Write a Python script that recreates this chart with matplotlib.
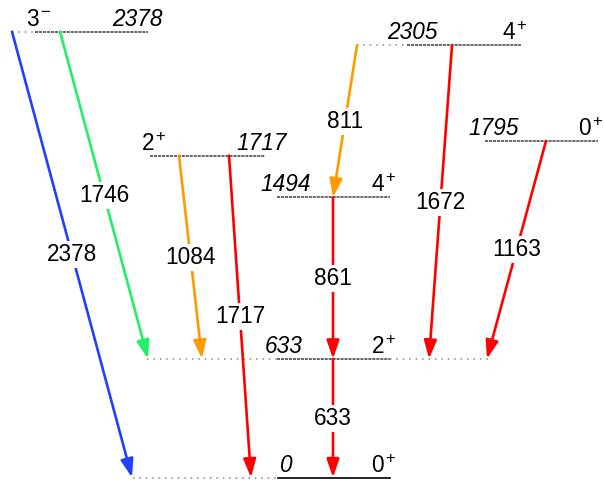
import matplotlib
matplotlib.use("Agg")
from matplotlib import pyplot as plt

plt.rcParams["font.family"] = ["Liberation Sans", "DejaVu Sans"]

# levels (keV) and spin-parity
level_energies = [0, 633, 1494, 1717, 1795, 2305, 2378]
level_spins = ["0", "2", "4", "2", "0", "4", "3"]
level_parity = ["+", "+", "+", "+", "+", "+", "\u2212"]

# transitions: initial level, final level, gamma energy
gamma_from = [2378, 2378, 1717, 1717, 2305, 1494, 633, 2305, 1795]
gamma_to = [0, 633, 633, 0, 1494, 633, 0, 633, 633]
gamma_energy = [2378, 1746, 1084, 1717, 811, 861, 633, 1672, 1163]
gamma_color = ["#2040ff", "#22ee66", "#ff9900", "#ff0000", "#ff9900",
               "#ff0000", "#ff0000", "#ff0000", "#ff0000"]

# drawing layout in pixels (horizontal only)
level_line = {0: (278, 390), 633: (277, 390), 1494: (277, 390), 1717: (150, 265),
              1795: (485, 598), 2305: (407, 521), 2378: (35, 148)}
level_dots = {0: [(133, 278)], 633: [(147, 277), (390, 488)], 2305: [(357, 407)],
              2378: [(12, 35)]}
# x of energy label centre and of the spin/parity split
level_text = {0: (285, 384), 633: (284, 384), 1494: (286, 384), 1717: (262, 154),
              1795: (494, 591), 2305: (412, 515), 2378: (137, 39)}
gamma_x = {2378: (12, 132), 1746: (60, 148), 1084: (179, 202), 1717: (229, 251),
           811: (357, 333), 861: (333, 333), 633: (333, 333), 1672: (452, 429),
           1163: (546, 487)}

fig = plt.figure(figsize=(6.04, 4.82), dpi=100)
ax = fig.add_axes([0, 0, 1, 1])
ax.set_xlim(0, 604)
ax.set_ylim(-24, 2546.7)
ax.axis("off")

for e, spin, par in zip(level_energies, level_spins, level_parity):
    x0, x1 = level_line[e]
    if e == 0:
        ax.plot([x0, x1], [e, e], color="black", lw=1.2, zorder=2)
    else:
        ax.plot([x0, x1], [e, e], color="#3a3a3a", lw=1.1, ls=(0, (2, 0.6)), zorder=2)
    for d0, d1 in level_dots.get(e, []):
        ax.plot([d0, d1], [e, e], color="#888888", lw=1.1, ls=(0, (1, 3.2)), zorder=1)
    ex, sx = level_text[e]
    ax.annotate(str(e), (ex, e), xytext=(0, 6), textcoords="offset pixels",
                ha="center", va="baseline", fontsize=16.3, style="italic", zorder=4)
    ax.annotate(spin, (sx, e), xytext=(0, 6), textcoords="offset pixels",
                ha="right", va="baseline", fontsize=16.3, zorder=4)
    ax.annotate(par, (sx, e), xytext=(1, 15), textcoords="offset pixels",
                ha="left", va="baseline", fontsize=12, zorder=4)

for ei, ef, eg, c in zip(gamma_from, gamma_to, gamma_energy, gamma_color):
    xa, xb = gamma_x[eg]
    ax.annotate("", xy=(xb, ef), xytext=(xa, ei),
                arrowprops=dict(arrowstyle="-|>,head_length=1.1,head_width=0.38",
                                mutation_scale=10, color=c, lw=1.9,
                                shrinkA=0, shrinkB=0),
                zorder=3)
    ax.text((xa + xb) / 2, (ei + ef) / 2, str(eg), ha="center", va="center",
            fontsize=16.3, zorder=5,
            bbox=dict(fc="white", ec="none", pad=1.5))

fig.savefig("out.png", dpi=100)
